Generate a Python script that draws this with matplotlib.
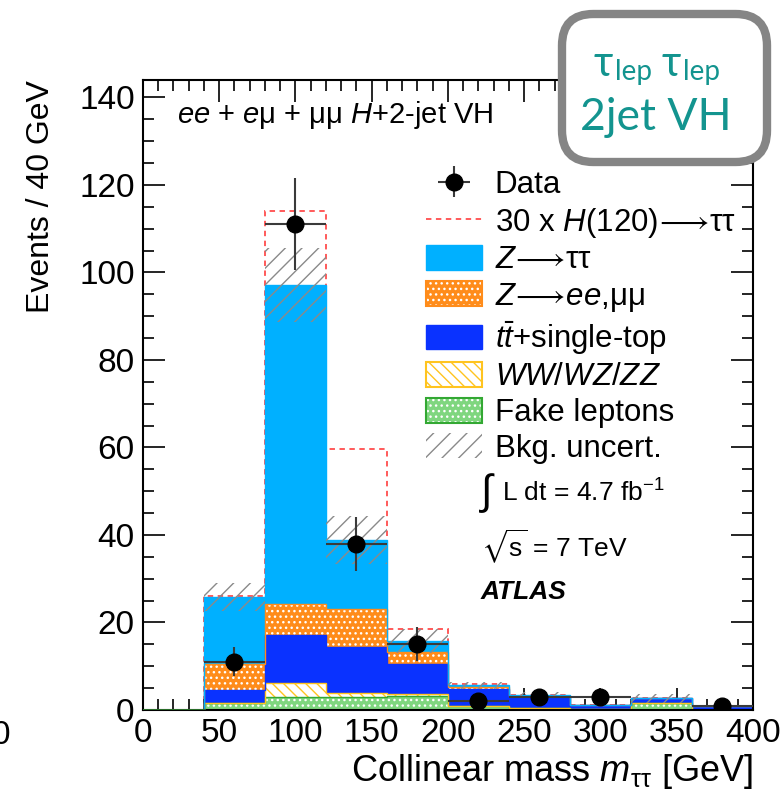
import numpy as np
import matplotlib
matplotlib.use('Agg')
import matplotlib.pyplot as plt
from matplotlib.patches import Patch, FancyBboxPatch
from matplotlib.lines import Line2D
from matplotlib.ticker import MultipleLocator

plt.rcParams['font.family'] = ['Liberation Sans', 'DejaVu Sans']
plt.rcParams['mathtext.fontset'] = 'custom'
plt.rcParams['mathtext.rm'] = 'Liberation Sans'
plt.rcParams['mathtext.it'] = 'Liberation Sans:italic'
plt.rcParams['mathtext.bf'] = 'Liberation Sans:bold'
plt.rcParams['mathtext.fallback'] = 'stix'
plt.rcParams['hatch.linewidth'] = 1.0

# 40 GeV bins of the collinear mass
edges = np.arange(0, 440, 40)

# background yields per bin (stacked bottom -> top)
fake = [0, 1.5, 3.0, 3.0, 3.3, 0.8, 0.4, 0.2, 1.7, 0.1]
diboson = [0, 0.2, 3.2, 0.8, 0.4, 0.1, 0.1, 0.05, 0.0, 0.0]
top = [0, 2.9, 11.0, 10.7, 6.9, 3.8, 2.4, 0.85, 1.0, 0.7]
zll = [0, 5.8, 7.0, 8.5, 2.6, 0.6, 0.3, 0.05, 0.0, 0.0]
ztt = [0, 15.5, 72.9, 15.9, 2.5, 0.4, 0.2, 0.0, 0.0, 0.0]
# 30 x H(120) signal, stacked on the total background
signal = [0, 0.2, 17.0, 20.8, 2.7, 0.3, 0.0, 0.0, 0.0, 0.0]
# half width of the background uncertainty band
bkg_unc = [0, 3.2, 8.5, 5.5, 2.7, 0.8, 0.6, 0.1, 1.0, 0.2]

# observed events (empty bins are not drawn)
data_x = [60, 100, 140, 180, 220, 260, 300, 380]
data_y = [11, 111, 38, 15, 2, 3, 3, 1]
data_err = [3.3, 10.5, 6.2, 3.9, 1.6, 1.7, 1.7, 1.0]

arrow = r'$\!\longrightarrow\!$'
labels = ['Data', r'30 x $H$(120)' + arrow + 'ττ', r'$Z$' + arrow + 'ττ',
          r'$Z$' + arrow + r'$ee$,μμ', r'$t\bar{t}$+single-top', r'$WW/WZ/ZZ$',
          'Fake leptons', 'Bkg. uncert.']

c_ztt = '#00b0ff'
c_zll = '#ff8c1a'
c_top = '#0a32ff'
c_vv = '#ffc41f'
c_fake = '#7fd67f'
c_fake_edge = '#33a833'
c_sig = '#ff4d4d'

fig = plt.figure(figsize=(7.83, 7.90), dpi=100)
ax = fig.add_axes([0.1826, 0.1013, 0.779, 0.7975])

centers = 0.5 * (edges[:-1] + edges[1:])
width = 40
components = [
    (fake, c_fake, 'white', '...', c_fake_edge),
    (diboson, 'white', c_vv, '\\\\\\', c_vv),
    (top, c_top, c_top, None, c_top),
    (zll, c_zll, 'white', '...', c_zll),
    (ztt, c_ztt, c_ztt, None, c_ztt),
]

bottom = np.zeros(len(centers))
for vals, face, hatchcol, hatch, edge in components:
    vals = np.asarray(vals, dtype=float)
    ax.bar(centers, vals, width=width, bottom=bottom, color=face,
           edgecolor=hatchcol, hatch=hatch, linewidth=0, zorder=2)
    ax.stairs(bottom + vals, edges, baseline=None, color=edge, lw=1.0, zorder=2.5)
    bottom = bottom + vals
total = bottom

# signal drawn on top of the background stack
ax.stairs(total + np.asarray(signal), edges, baseline=0, color=c_sig, lw=1.3,
          ls=(0, (3, 2.5)), zorder=1.5)

unc = np.asarray(bkg_unc)
ax.bar(centers, 2 * unc, width=width, bottom=total - unc, fill=False,
       edgecolor='#8a8a8a', hatch='//', linewidth=0, zorder=3)

# fake-lepton line along the baseline
ax.plot([0, 40], [0, 0], color='#2f7a2f', lw=2, zorder=2.6)

data = ax.errorbar(data_x, data_y, xerr=20, yerr=data_err, fmt='o', color='black',
                   ecolor='#3a3a3a', elinewidth=1.5, ms=12, capsize=0, zorder=5)

ax.set_xlim(0, 400)
ax.set_ylim(0, 144)
ax.xaxis.set_major_locator(MultipleLocator(50))
ax.xaxis.set_minor_locator(MultipleLocator(10))
ax.yaxis.set_major_locator(MultipleLocator(20))
ax.yaxis.set_minor_locator(MultipleLocator(5))
ax.tick_params(which='both', direction='in', top=True, right=True, labelsize=24,
               width=1.2, pad=6)
ax.tick_params(which='major', length=16)
ax.tick_params(which='minor', length=8)
for s in ax.spines.values():
    s.set_linewidth(1.5)

ax.set_ylabel('Events / 40 GeV', fontsize=23, loc='top')
ax.yaxis.set_label_coords(-0.143, 1.0)
ax.set_xlabel(r'Collinear mass $m_{\mathrm{ττ}}$ [GeV]', fontsize=26, loc='right',
              va='center')
ax.xaxis.set_label_coords(1.0, -0.098)

handles = [
    data,
    Line2D([], [], color=c_sig, lw=1.3, ls=(0, (3, 2.5))),
    Patch(facecolor=c_ztt, edgecolor=c_ztt),
    (Patch(facecolor=c_zll, edgecolor='white', hatch='...', lw=0),
     Patch(fill=False, edgecolor=c_zll, lw=1.5)),
    Patch(facecolor=c_top, edgecolor=c_top),
    (Patch(facecolor='white', edgecolor=c_vv, hatch='\\\\\\', lw=0),
     Patch(fill=False, edgecolor=c_vv, lw=1.5)),
    (Patch(facecolor=c_fake, edgecolor='white', hatch='...', lw=0),
     Patch(fill=False, edgecolor=c_fake_edge, lw=1.5)),
    Patch(fill=False, edgecolor='#8a8a8a', hatch='//', lw=0),
]
ax.legend(handles, labels, loc='upper left', bbox_to_anchor=(0.464, 0.857),
          frameon=False, fontsize=22.5, handlelength=1.8, handleheight=0.85,
          handletextpad=0.4, labelspacing=0.17, borderpad=0, borderaxespad=0)

ax.text(0.056, 0.944, r'$ee$ + $e$μ + μμ $H$+2-jet VH', transform=ax.transAxes,
        fontsize=21, va='center', ha='left')
ax.text(0.551, 0.345, r'$\int$', transform=ax.transAxes, fontsize=30,
        va='center', ha='left')
ax.text(0.588, 0.345, r'L dt = 4.7 fb$^{\mathrm{-1}}$', transform=ax.transAxes,
        fontsize=19, va='center', ha='left')
ax.text(0.554, 0.258, r'$\sqrt{\mathrm{s}}$ = 7 TeV', transform=ax.transAxes,
        fontsize=19, va='center', ha='left')
ax.text(0.553, 0.188, 'ATLAS', transform=ax.transAxes, fontsize=19,
        fontweight='bold', fontstyle='italic', va='center', ha='left')

# stray tick label at the left edge
fig.text(-0.011, 0.069, '0', fontsize=24, va='center', ha='left')

# channel badge
W, H = 783.0, 790.0
badge = FancyBboxPatch((562 / W, (H - 162) / H), 205 / W, 148 / H,
                       boxstyle='round,pad=0,rounding_size=0.04',
                       transform=fig.transFigure, facecolor='white',
                       edgecolor='#858585', linewidth=6, zorder=10)
fig.add_artist(badge)
teal = '#13948f'
fam = ['Lato', 'DejaVu Sans']
for x0 in (594, 662):
    fig.text(x0 / W, 1 - 76 / H, 'τ', fontsize=30, color=teal, family=fam,
             ha='left', va='baseline', zorder=11)
    fig.text((x0 + 21) / W, 1 - 80 / H, 'lep', fontsize=20, color=teal, family=fam,
             ha='left', va='baseline', zorder=11)
fig.text(656 / W, 1 - 130 / H, '2jet VH', fontsize=32, color=teal, family=fam,
         ha='center', va='baseline', zorder=11)

fig.savefig('out.png', dpi=100)
